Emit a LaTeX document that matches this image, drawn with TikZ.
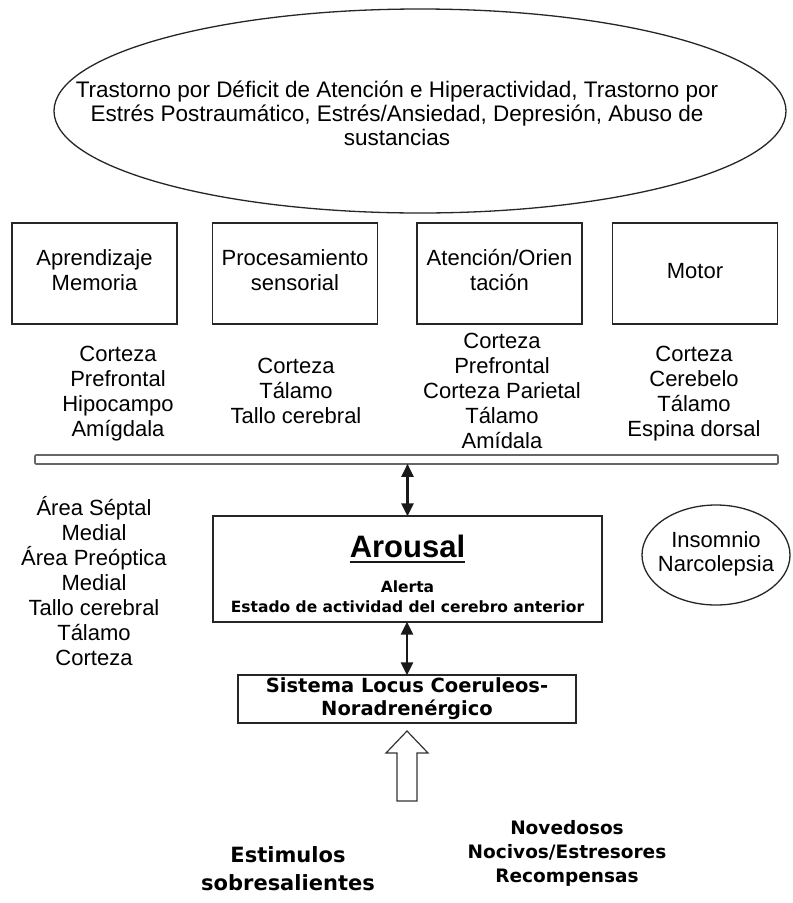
\documentclass[tikz,border=0pt]{standalone}
\usepackage{fontspec}
\setmainfont{Liberation Sans}
\newfontfamily\boldv{DejaVu Sans}[BoldFont={DejaVu Sans Bold}]
\usetikzlibrary{shapes.geometric,arrows.meta}
\begin{document}
\begin{tikzpicture}[x=1pt,y=-1pt,
  lbl/.style={align=center,inner sep=0pt,font=\fontsize{22}{25}\selectfont,
     execute at begin node=\strut,execute at end node=\strut},
  box/.style={draw=black!85,line width=1.3pt,minimum width=165pt,minimum height=101pt,inner sep=0pt,lbl},
  ln/.style={draw=black!85,line width=1.3pt},
  dbl/.style={line width=2.4pt,black!90,{Triangle[width=12pt,length=13pt]}-{Triangle[width=12pt,length=13pt]},shorten <=-1pt,shorten >=-1pt},
  bt/.style={inner sep=0pt,anchor=base,font=\boldv\bfseries\fontsize{15.5}{18}\selectfont},
  bb/.style={inner sep=0pt,align=center,font=\boldv\bfseries\fontsize{21}{28}\selectfont}]
\useasboundingbox (0,0) rectangle (793,903);

% top ellipse
\node (dis) [ln,ellipse,minimum width=732pt,minimum height=204pt,inner sep=0pt] at (420,111) {};
\node (distext) [lbl,font=\fontsize{22.5}{24}\selectfont] at (397,117)
  {Trastorno por Déficit de Atención e Hiperactividad, Trastorno por\\
   Estrés Postraumático, Estrés/Ansiedad, Depresión, Abuso de\\
   sustancias};

% function boxes
\node (b1) [box] at (94.5,273.5) {Aprendizaje\\Memoria};
\node (b2) [box] at (295,273.5) {Procesamiento\\sensorial};
\node (b3) [box] at (499.5,273.5) {Atención/Orien\\tación};
\node (b4) [box] at (695,273.5) {Motor};

% structures
\node (c1) [lbl] at (118,395) {Corteza\\Prefrontal\\Hipocampo\\Amígdala};
\node (c2) [lbl] at (296,395) {Corteza\\Tálamo\\Tallo cerebral};
\node (c3) [lbl] at (502,395) {Corteza\\Prefrontal\\Corteza Parietal\\Tálamo\\Amídala};
\node (c4) [lbl] at (694,395) {Corteza\\Cerebelo\\Tálamo\\Espina dorsal};

% bar
\node (bar) [draw=black!60,line width=1.6pt,fill=white,minimum width=743pt,minimum height=9pt,inner sep=0pt,rounded corners=1pt] at (406.5,459.5) {};

% left list
\node (left) [lbl] at (94,585) {Área Séptal\\Medial\\Área Preóptica\\Medial\\Tallo cerebral\\Tálamo\\Corteza};

% insomnio
\node (ins) [ln,ellipse,minimum width=148pt,minimum height=100pt,inner sep=0pt] at (716,555) {};
\node (instext) [lbl,font=\fontsize{22}{24}\selectfont] at (ins.center) {Insomnio\\Narcolepsia};

% arousal
\node (ar) [ln,minimum width=389pt,minimum height=106pt,inner sep=0pt] at (407.5,569) {};
\node (art) [inner sep=0pt,anchor=base,font=\bfseries\fontsize{31}{31}\selectfont] at (407.5,557) {Arousal};
\draw[line width=2.4pt,black!90] ([yshift=-5pt]art.base west) -- ([yshift=-5pt]art.base east);
\node (ale) [bt] at (407.5,592) {Alerta};
\node (est) [bt] at (407.5,612) {Estado de actividad del cerebro anterior};

% locus
\node (lc) [ln,minimum width=338pt,minimum height=48pt,inner sep=0pt] at (407,699) {};
\node (lc1) [bt,font=\boldv\bfseries\fontsize{19.5}{23}\selectfont] at (407,692) {Sistema Locus Coeruleos-};
\node (lc2) [bt,font=\boldv\bfseries\fontsize{19.5}{23}\selectfont] at (407,715) {Noradrenérgico};

% arrows
\draw[dbl] (bar.south -| ar.north) -- (ar.north);
\draw[dbl] (ar.south -| lc.north) -- (lc.north);

% hollow arrow
\draw[draw=black!80,line width=1.2pt,fill=white,line join=miter]
  (407,731) -- (428,753) -- (417,753) -- (417,801) -- (397,801) -- (397,753) -- (386,753) -- cycle;

% stimuli
\node (sti) [bb] at (288,869) {Estimulos\\sobresalientes};
\node (nov) [bb,font=\boldv\bfseries\fontsize{18.5}{24}\selectfont] at (567,853) {Novedosos\\Nocivos/Estresores\\Recompensas};
\end{tikzpicture}
\end{document}
